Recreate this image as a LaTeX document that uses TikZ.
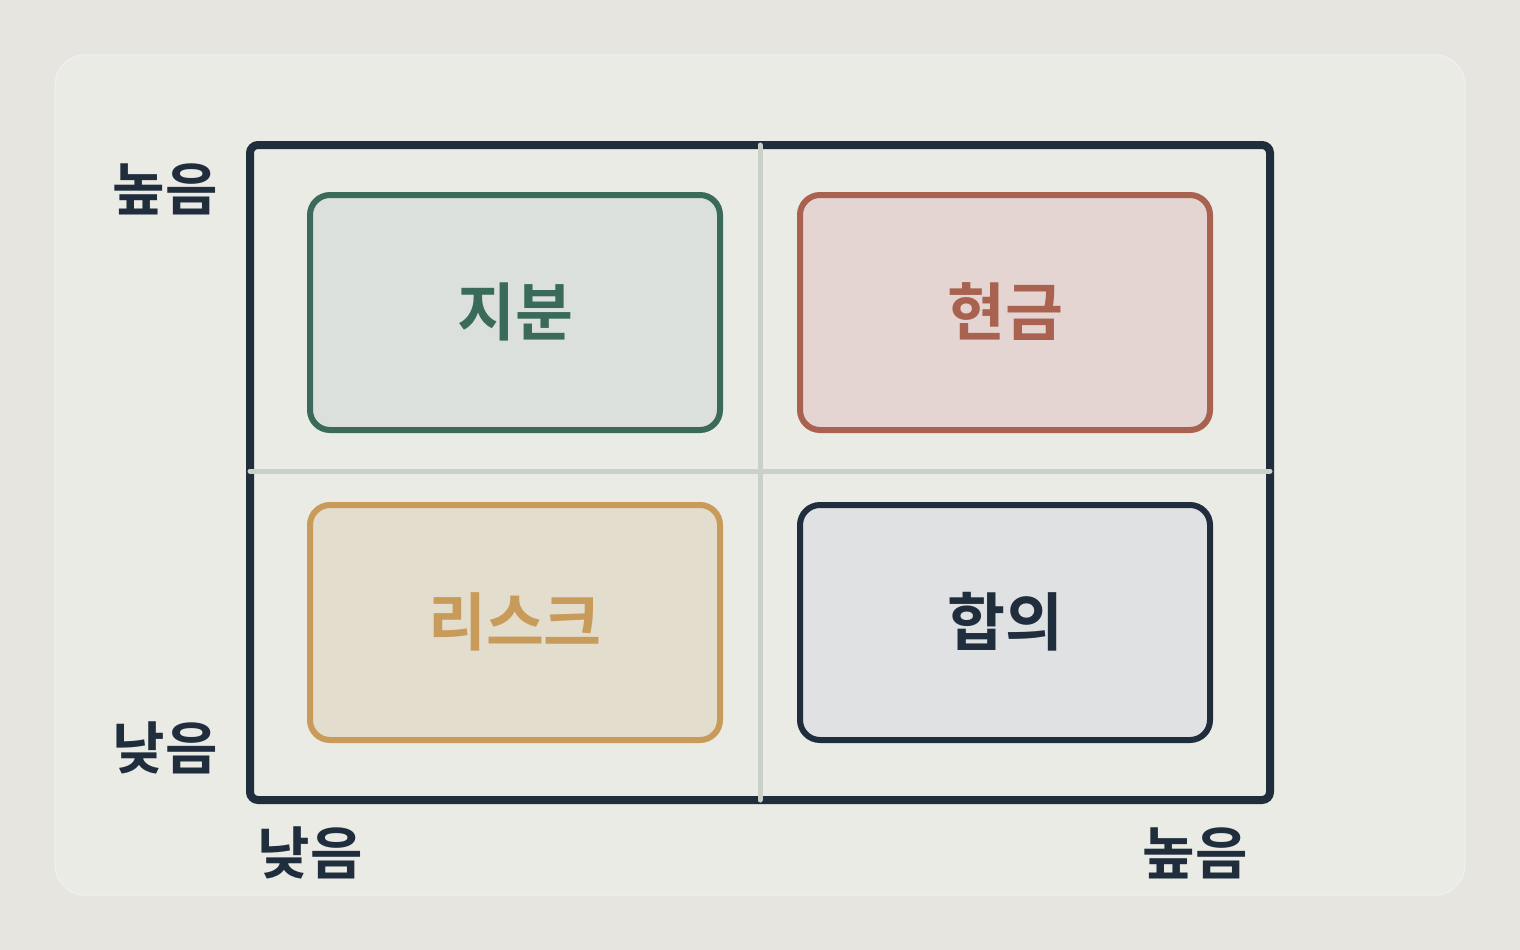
\documentclass[tikz,border=0pt]{standalone}
\usepackage{fontspec}
\newfontfamily\kr{Noto Sans CJK KR}[BoldFont={* Bold}]
\definecolor{bgc}{HTML}{E6E5E0}
\definecolor{panel}{HTML}{EBEBE6}
\definecolor{navy}{HTML}{1F2D3D}
\definecolor{divc}{HTML}{C9D0CA}
\definecolor{grn}{HTML}{3A6B5A}
\definecolor{grnf}{HTML}{DCE0DC}
\definecolor{red}{HTML}{A96150}
\definecolor{redf}{HTML}{E4D5D3}
\definecolor{gold}{HTML}{C89B5A}
\definecolor{goldf}{HTML}{E2DDCD}
\definecolor{navyf}{HTML}{DFE1E3}
\tikzset{
  quad/.style={line width=6pt, rounded corners=20pt},
  qlabel/.style={font=\kr\bfseries\fontsize{63}{70}\selectfont},
  axlabel/.style={font=\kr\bfseries\fontsize{57}{64}\selectfont, text=navy},
}
\begin{document}
\begin{tikzpicture}[x=1pt,y=-1pt]
\fill[bgc] (0,0) rectangle (1520,950);
\useasboundingbox (0,0) rectangle (1520,950);
\draw[fill=panel, draw=black!6, line width=1pt, rounded corners=30pt] (55,55) rectangle (1465,895);
% frame
\draw[navy, line width=8pt, rounded corners=8pt] (250,145) rectangle (1270,800);
% dividers
\draw[divc, line width=5pt, line cap=round] (760,145) coordinate (vt) -- (760,800) coordinate (vb);
\draw[divc, line width=5pt, line cap=round] (250,471) coordinate (hl) -- (1270,471) coordinate (hr);
% quadrants
\draw[quad, draw=grn, fill=grnf] (310,195) rectangle (720,430);
\draw[quad, draw=red, fill=redf] (800,195) rectangle (1210,430);
\draw[quad, draw=gold, fill=goldf] (310,505) rectangle (720,740);
\draw[quad, draw=navy, fill=navyf] (800,505) rectangle (1210,740);
\node[qlabel, text=grn] (q1) at (515,312) {지분};
\node[qlabel, text=red] (q2) at (1005,312) {현금};
\node[qlabel, text=gold] (q3) at (515,622) {리스크};
\node[qlabel, text=navy] (q4) at (1005,622) {합의};
% axis labels
\node[axlabel] (yh) at (165,189) {높음};
\node[axlabel] (yl) at (165,748) {낮음};
\node[axlabel] (xl) at (310,853) {낮음};
\node[axlabel] (xh) at (1195,853) {높음};
\end{tikzpicture}
\end{document}
